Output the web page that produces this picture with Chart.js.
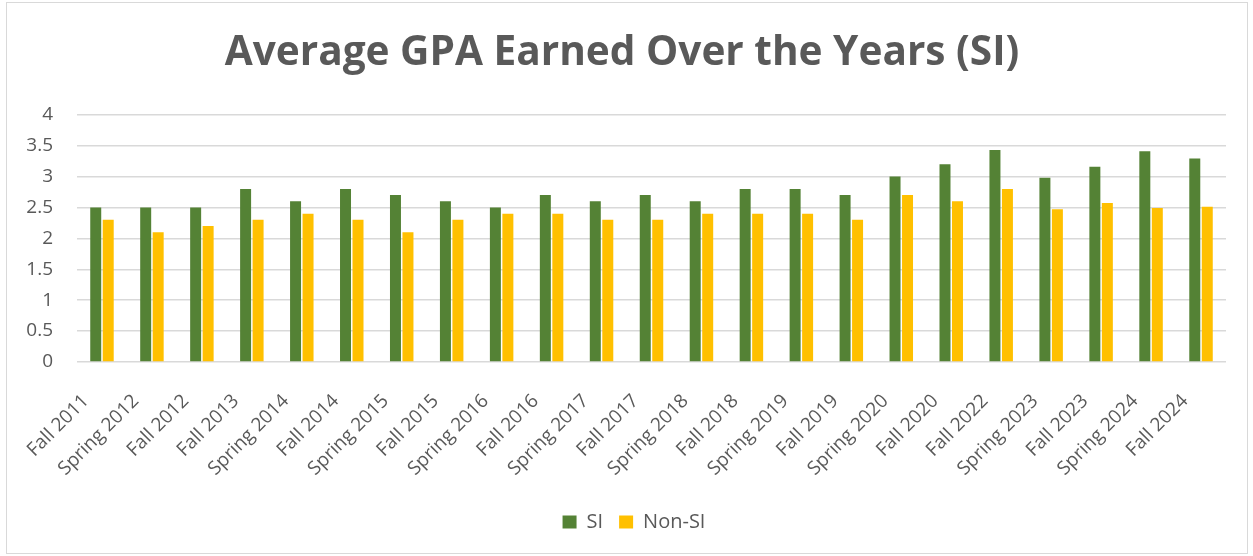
<!DOCTYPE html>
<html>
<head>
<meta charset="utf-8">
<script src="https://cdn.jsdelivr.net/npm/chart.js@4.4.1/dist/chart.umd.min.js"></script>
<style>
  html, body { margin: 0; padding: 0; background: #fff; }
  #wrap { position: relative; width: 1253px; height: 556px; }
  #frame { position: absolute; left: 6px; top: 2px; width: 1242px; height: 552px; border: 1px solid #d9d9d9; box-sizing: border-box; }
  canvas { position: absolute; left: 0; top: 0; }
</style>
</head>
<body>
<div id="wrap">
  <div id="frame"></div>
  <canvas id="gpaChart" width="1253" height="556"></canvas>
</div>
<script>
const terms = ['Fall 2011', 'Spring 2012', 'Fall 2012', 'Fall 2013', 'Spring 2014', 'Fall 2014',
  'Spring 2015', 'Fall 2015', 'Spring 2016', 'Fall 2016', 'Spring 2017', 'Fall 2017',
  'Spring 2018', 'Fall 2018', 'Spring 2019', 'Fall 2019', 'Spring 2020', 'Fall 2020',
  'Fall 2022', 'Spring 2023', 'Fall 2023', 'Spring 2024', 'Fall 2024'];
const siGpa = [2.5, 2.5, 2.5, 2.8, 2.6, 2.8, 2.7, 2.6, 2.5, 2.7, 2.6, 2.7,
  2.6, 2.8, 2.8, 2.7, 3.0, 3.2, 3.43, 2.98, 3.16, 3.41, 3.29];
const nonSiGpa = [2.3, 2.1, 2.2, 2.3, 2.4, 2.3, 2.1, 2.3, 2.4, 2.4, 2.3, 2.3,
  2.4, 2.4, 2.4, 2.3, 2.7, 2.6, 2.8, 2.47, 2.57, 2.49, 2.51];

const textColor = '#595959';
const fontFamily = "'Open Sans', 'Noto Sans', sans-serif";

// legend sits a little right of the title in the original
const shiftLegend = {
  id: 'shiftLegend',
  afterLayout: function(chart) {
    chart.legend.left += 12;
    chart.legend.right += 12;
  }
};

const ctx = document.getElementById('gpaChart').getContext('2d');
const gpaChart = new Chart(ctx, {
  type: 'bar',
  data: {
    labels: terms,
    datasets: [{
      label: 'SI',
      data: siGpa,
      backgroundColor: '#548235'
    }, {
      label: 'Non-SI',
      data: nonSiGpa,
      backgroundColor: '#FFC000'
    }]
  },
  plugins: [shiftLegend],
  options: {
    responsive: false,
    animation: false,
    devicePixelRatio: 1,
    datasets: {
      bar: { categoryPercentage: 0.5, barPercentage: 0.88 }
    },
    layout: {
      padding: { left: 18, right: 27, top: 0, bottom: 14 }
    },
    plugins: {
      title: {
        display: true,
        text: 'Average GPA Earned Over the Years (SI)',
        color: textColor,
        font: { family: fontFamily, size: 40.6, weight: 'bold' },
        padding: { top: 29, bottom: 37 }
      },
      legend: {
        position: 'bottom',
        labels: {
          color: textColor,
          boxWidth: 14,
          boxHeight: 13,
          padding: 16,
          font: { family: fontFamily, size: 20 }
        }
      },
      tooltip: { enabled: false }
    },
    scales: {
      x: {
        grid: { display: false },
        border: { display: false },
        ticks: {
          color: textColor,
          font: { family: fontFamily, size: 19 },
          minRotation: 45,
          maxRotation: 45,
          autoSkip: false,
          padding: 20,
          labelOffset: -16
        },
        afterFit: function(scale) { scale.height = 134; }
      },
      y: {
        min: 0,
        max: 4,
        border: { display: false },
        grid: { color: '#d9d9d9', lineWidth: 1.5, drawTicks: false },
        ticks: {
          stepSize: 0.5,
          color: textColor,
          padding: 24,
          font: { family: fontFamily, size: 19 },
          callback: function(value) { return String(value); }
        },
        afterFit: function(scale) { scale.width = 59; }
      }
    }
  }
});
</script>
</body>
</html>
